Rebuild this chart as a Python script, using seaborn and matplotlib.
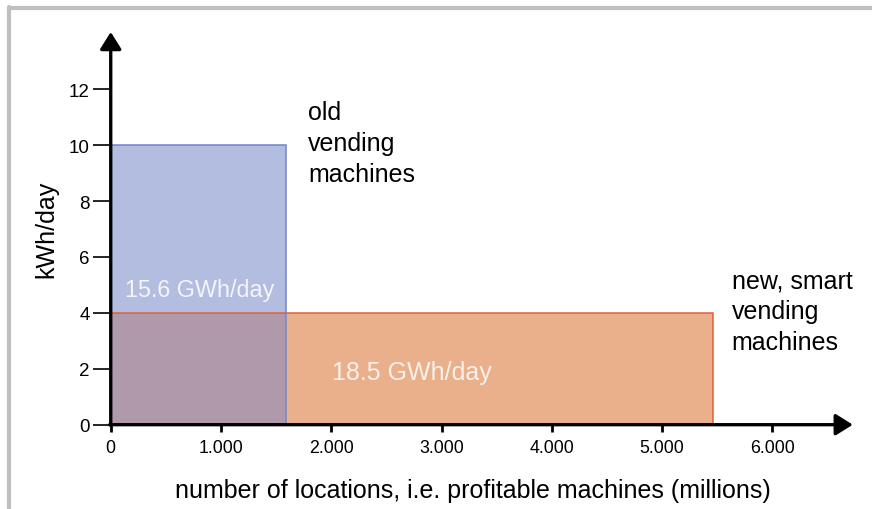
import matplotlib
matplotlib.use("Agg")
import matplotlib.pyplot as plt
from matplotlib.lines import Line2D
import seaborn as sns

# data
groups = ["old vending machines", "new, smart vending machines"]
machines_millions = [1.59, 5.46]
kwh_per_day = [10, 4]
total_labels = ["15.6 GWh/day", "18.5 GWh/day"]
x_ticks = [0, 1, 2, 3, 4, 5, 6]
x_tick_labels = ["0", "1.000", "2.000", "3.000", "4.000", "5.000", "6.000"]
y_ticks = [0, 2, 4, 6, 8, 10, 12]

fill_colors = ["#b3bde0", "#e9b08b"]
edge_colors = ["#7384cc", "#e0603a"]
overlap_color = "#b099aa"

sns.set_theme(style="white")
plt.rcParams["font.family"] = ["Liberation Sans", "DejaVu Sans"]

fig = plt.figure(figsize=(8.72, 5.10), dpi=100)
ax = fig.add_axes([0.127, 0.1653, 0.851, 0.770])
ax.set_xlim(0, 6.73)
ax.set_ylim(0, 14.05)

old_w, new_w = machines_millions
old_h, new_h = kwh_per_day

# fills: new (orange), old (blue), then the overlap
ax.bar(0, new_h, width=new_w, align="edge", color=fill_colors[1], linewidth=0, zorder=1)
ax.bar(0, old_h, width=old_w, align="edge", color=fill_colors[0], linewidth=0, zorder=2)
ax.bar(0, min(old_h, new_h), width=min(old_w, new_w), align="edge",
       color=overlap_color, linewidth=0, zorder=3)
# outlines on top
ax.bar(0, new_h, width=new_w, align="edge", fill=False, edgecolor=edge_colors[1], linewidth=1.1, zorder=4)
ax.bar(0, old_h, width=old_w, align="edge", fill=False, edgecolor=edge_colors[0], linewidth=1.1, zorder=4)

# axes drawn as arrows
for s in ax.spines.values():
    s.set_visible(False)
arrow = dict(arrowstyle="-|>,head_length=0.4,head_width=0.25", color="black", lw=2.4,
             mutation_scale=26, shrinkA=0, shrinkB=0)
ax.annotate("", xy=(6.73, 0), xytext=(-0.01, 0), arrowprops=arrow, annotation_clip=False, zorder=6)
ax.annotate("", xy=(0, 14.05), xytext=(0, -0.03), arrowprops=arrow, annotation_clip=False, zorder=6)

ax.set_xticks(x_ticks, x_tick_labels)
ax.set_yticks(y_ticks)
ax.tick_params(axis="y", left=True, direction="out", length=13, width=1.2, pad=2,
               labelsize=13.5, colors="black")
ax.tick_params(axis="x", bottom=True, direction="out", length=5, width=2, pad=5,
               labelsize=12.8, colors="black")

ax.set_xlabel("number of locations, i.e. profitable machines (millions)", fontsize=18,
              color="black", labelpad=16)
ax.xaxis.label.set_x(0.488)
ax.set_ylabel("kWh/day", fontsize=18, color="black", labelpad=8)

# labels
ax.text(1.79, 11.6, "old\nvending\nmachines", fontsize=18, va="top", ha="left",
        linespacing=1.35, color="black")
ax.text(5.63, 5.58, "new, smart\nvending\nmachines", fontsize=18, va="top", ha="left",
        linespacing=1.35, color="black")
ax.text(0.13, 4.85, total_labels[0], fontsize=16.8, color="#f4f4fa", va="center", zorder=5)
ax.text(2.01, 1.9, total_labels[1], fontsize=18, color="#f7f0ea", va="center", zorder=5)

# grey frame along top and left edges
fig.add_artist(Line2D([9 / 872, 1], [1 - 9 / 510, 1 - 9 / 510], color="#bfbfbf", lw=3))
fig.add_artist(Line2D([8.5 / 872, 8.5 / 872], [0, 1 - 7.5 / 510], color="#bfbfbf", lw=3))

fig.savefig("out.png", dpi=100)
